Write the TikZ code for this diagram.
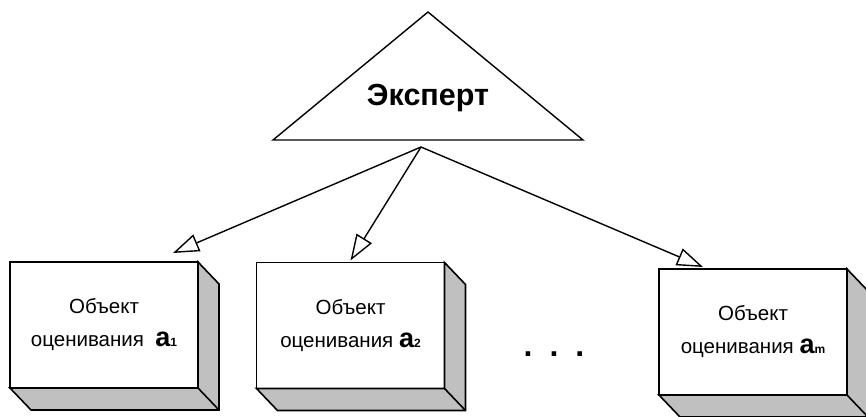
\documentclass[tikz,border=0pt]{standalone}
\usepackage{fontspec}
\setmainfont{Liberation Sans}
\usetikzlibrary{arrows.meta,positioning}
\definecolor{sidegray}{HTML}{C0C0C0}
\newcommand\objidx[1]{{\bfseries\fontsize{27}{27}\selectfont a\fontsize{12}{12}\selectfont#1}}

\begin{document}
\begin{tikzpicture}[
    x=1pt,y=-1pt,
    object/.style={draw,fill=white,line width=1.6pt,outer sep=0pt,inner sep=0pt,minimum width=188pt,minimum height=126pt,align=center,font=\fontsize{20.5}{33}\selectfont},
    side/.style={draw,fill=sidegray,line width=1.6pt},
    arrow/.style={-{Triangle[open,length=26pt,width=18pt]},line width=1.4pt}
  ]
    \useasboundingbox (0,0) rectangle (866,416);
    % expert
    \draw[line width=1.4pt] (428,12) -- (583,140) -- (273,140) -- cycle;
    \node[font=\bfseries\fontsize{30.5}{32}\selectfont] (expert) at (428,98) {Эксперт};
    \coordinate (src) at (421,147);
    % objects
    \node[object] (a1) at (104,325) {Объект\\оценивания\ \ \objidx{1}};
    \node[object] (a2) at (350.5,325.5) {Объект\\оценивания \objidx{2}};
    \node[object] (am) at (753,332) {Объект\\оценивания \objidx{m}};
    \foreach \b in {a1,a2,am}{
      \draw[side] (\b.north east) -- ([shift={(21,22)}]\b.north east) -- ([shift={(21,22)}]\b.south east) -- ([shift={(21,22)}]\b.south west) -- (\b.south west) -- (\b.south east) -- cycle;
      \draw[side] (\b.south east) -- ([shift={(21,22)}]\b.south east);
    }
    \node[font=\bfseries\fontsize{32}{32}\selectfont,anchor=base] (dots) at (554,356) {.\hspace{17pt}.\hspace{17pt}.};
    % arrows
    \draw[arrow] (src) -- ([xshift=69pt,yshift=9pt]a1.north);
    \draw[arrow] (src) -- ([yshift=2pt]a2.north);
    \draw[arrow] (src) -- ([xshift=-50pt,yshift=2pt]am.north);
\end{tikzpicture}
\end{document}
